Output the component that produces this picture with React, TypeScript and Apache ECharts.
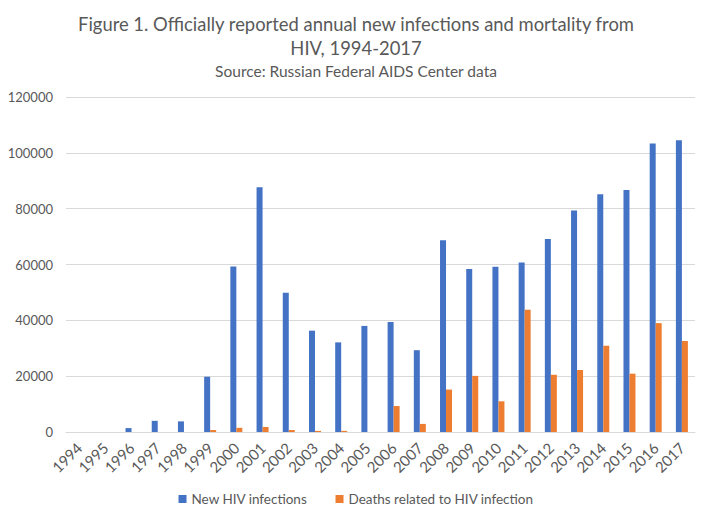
import React, { useEffect, useRef } from "react";
import * as echarts from "echarts";

const years = ["1994","1995","1996","1997","1998","1999","2000","2001","2002","2003","2004","2005","2006","2007","2008","2009","2010","2011","2012","2013","2014","2015","2016","2017"];
const newInfections = [0, 0, 1400, 4000, 3800, 19800, 59300, 87700, 49900, 36300, 32100, 38000, 39400, 29300, 68700, 58400, 59200, 60700, 69100, 79300, 85200, 86700, 103300, 104500];
const deaths = [0, 0, 0, 0, 0, 700, 1500, 1800, 700, 400, 400, 0, 9300, 2900, 15200, 20100, 11000, 43800, 20500, 22200, 30900, 20900, 39000, 32600];
const yTicks = [0, 20000, 40000, 60000, 80000, 100000, 120000];

const FONT = "Lato, 'Liberation Sans', sans-serif";
const GRAY = "#595959";

export default function App() {
  const ref = useRef<HTMLDivElement>(null);
  useEffect(() => {
    const chart = echarts.init(ref.current!, null, { renderer: "svg" });
    chart.setOption({
      animation: false,
      backgroundColor: "#ffffff",
      textStyle: { fontFamily: FONT },
      title: [
        {
          text: "Figure 1. Officially reported annual new infections and mortality from",
          left: "center",
          top: 10,
          textStyle: { fontFamily: FONT, fontSize: 18.4, fontWeight: "normal", color: GRAY },
        },
        {
          text: "HIV, 1994-2017",
          left: "center",
          top: 34,
          textStyle: { fontFamily: FONT, fontSize: 18.4, fontWeight: "normal", color: GRAY },
        },
        {
          text: "Source: Russian Federal AIDS Center data",
          left: "center",
          top: 58,
          textStyle: { fontFamily: FONT, fontSize: 15.5, fontWeight: "normal", color: GRAY },
        },
      ],
      legend: {
        bottom: 9,
        left: "center",
        itemWidth: 8,
        itemHeight: 8,
        itemGap: 28,
        icon: "rect",
        textStyle: { fontFamily: FONT, fontSize: 13.5, color: GRAY },
        data: ["New HIV infections", "Deaths related to HIV infection"],
      },
      grid: { left: 66, right: 17, top: 97, bottom: 88, containLabel: false },
      xAxis: {
        type: "category",
        data: years,
        axisLine: { lineStyle: { color: "#D9D9D9" } },
        axisTick: { show: false },
        axisLabel: { rotate: 45, color: GRAY, fontSize: 15, fontFamily: FONT, margin: 13, interval: 0 },
      },
      yAxis: {
        type: "value",
        min: 0,
        max: 120000,
        interval: 20000,
        axisLine: { show: false },
        axisTick: { show: false },
        splitLine: { lineStyle: { color: "#D9D9D9" } },
        axisLabel: {
          color: GRAY,
          fontSize: 13,
          fontFamily: FONT,
          margin: 13,
          customValues: yTicks,
          formatter: (v: number) => String(v),
        },
      },
      series: [
        {
          name: "New HIV infections",
          type: "bar",
          data: newInfections,
          itemStyle: { color: "#4472C4" },
          barWidth: 6,
          barGap: "0%",
        },
        {
          name: "Deaths related to HIV infection",
          type: "bar",
          data: deaths,
          itemStyle: { color: "#ED7D31" },
          barWidth: 6,
          barGap: "0%",
        },
      ],
    });
    return () => chart.dispose();
  }, []);
  return <div ref={ref} style={{ width: 712, height: 520, margin: -8 }} />;
}
